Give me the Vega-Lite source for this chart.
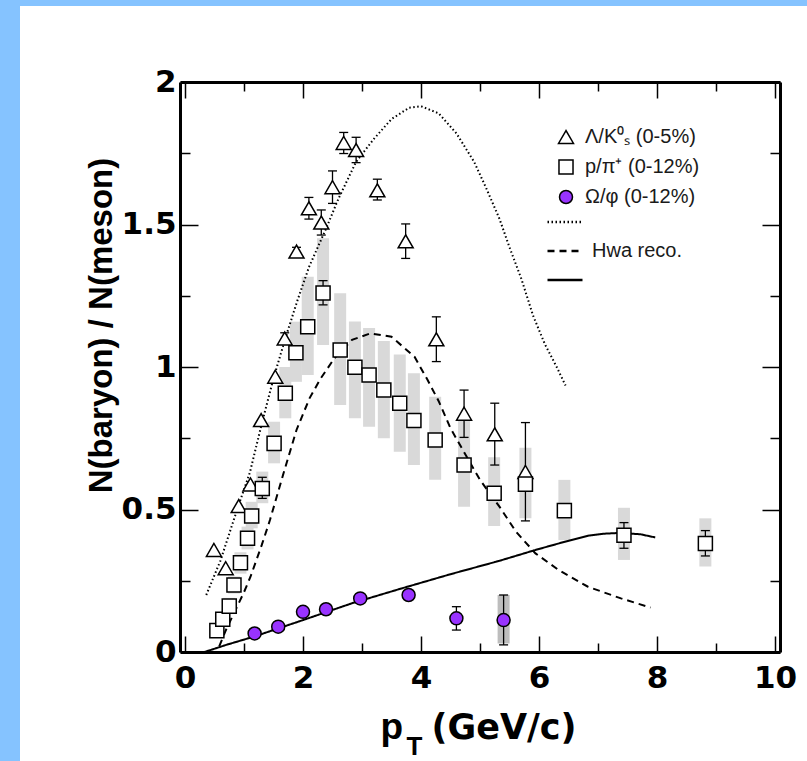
{
  "$schema": "https://vega.github.io/schema/vega-lite/v6.json",
  "width": 787,
  "height": 755,
  "autosize": "none",
  "padding": {"left": 20, "top": 6, "right": 0, "bottom": 0},
  "background": "#85C3FF",
  "config": {
    "view": {"fill": "white", "stroke": null},
    "font": "Liberation Sans",
    "axis": {"grid": false, "domainColor": "black", "tickColor": "black", "labelColor": "black", "titleColor": "black", "labelFlush": false, "labelOverlap": false}
  },
  "datasets": {
    "points": [
      {"s": "Λ/K⁰ₛ (0-5%)", "x": 0.49, "y": 0.358},
      {"s": "Λ/K⁰ₛ (0-5%)", "x": 0.69, "y": 0.294},
      {"s": "Λ/K⁰ₛ (0-5%)", "x": 0.91, "y": 0.512},
      {"s": "Λ/K⁰ₛ (0-5%)", "x": 1.11, "y": 0.588},
      {"s": "Λ/K⁰ₛ (0-5%)", "x": 1.29, "y": 0.814},
      {"s": "Λ/K⁰ₛ (0-5%)", "x": 1.53, "y": 0.966},
      {"s": "Λ/K⁰ₛ (0-5%)", "x": 1.69, "y": 1.10, "elo": 1.08, "ehi": 1.12},
      {"s": "Λ/K⁰ₛ (0-5%)", "x": 1.89, "y": 1.405, "elo": 1.39, "ehi": 1.42},
      {"s": "Λ/K⁰ₛ (0-5%)", "x": 2.10, "y": 1.557, "elo": 1.519, "ehi": 1.595},
      {"s": "Λ/K⁰ₛ (0-5%)", "x": 2.31, "y": 1.507, "elo": 1.463, "ehi": 1.551},
      {"s": "Λ/K⁰ₛ (0-5%)", "x": 2.50, "y": 1.631, "elo": 1.574, "ehi": 1.688},
      {"s": "Λ/K⁰ₛ (0-5%)", "x": 2.69, "y": 1.786, "elo": 1.749, "ehi": 1.823},
      {"s": "Λ/K⁰ₛ (0-5%)", "x": 2.90, "y": 1.761, "elo": 1.717, "ehi": 1.806},
      {"s": "Λ/K⁰ₛ (0-5%)", "x": 3.26, "y": 1.62, "elo": 1.586, "ehi": 1.659},
      {"s": "Λ/K⁰ₛ (0-5%)", "x": 3.74, "y": 1.441, "elo": 1.381, "ehi": 1.502},
      {"s": "Λ/K⁰ₛ (0-5%)", "x": 4.26, "y": 1.097, "elo": 1.019, "ehi": 1.176},
      {"s": "Λ/K⁰ₛ (0-5%)", "x": 4.73, "y": 0.836, "elo": 0.753, "ehi": 0.919},
      {"s": "Λ/K⁰ₛ (0-5%)", "x": 5.25, "y": 0.764, "elo": 0.656, "ehi": 0.873},
      {"s": "Λ/K⁰ₛ (0-5%)", "x": 5.77, "y": 0.632, "elo": 0.46, "ehi": 0.805},
      {"s": "p/π⁺ (0-12%)", "x": 0.54, "y": 0.075, "slo": 0.055, "shi": 0.095},
      {"s": "p/π⁺ (0-12%)", "x": 0.64, "y": 0.115, "slo": 0.09, "shi": 0.14},
      {"s": "p/π⁺ (0-12%)", "x": 0.75, "y": 0.161, "slo": 0.135, "shi": 0.19},
      {"s": "p/π⁺ (0-12%)", "x": 0.83, "y": 0.235, "slo": 0.205, "shi": 0.265},
      {"s": "p/π⁺ (0-12%)", "x": 0.94, "y": 0.313, "slo": 0.275, "shi": 0.35},
      {"s": "p/π⁺ (0-12%)", "x": 1.06, "y": 0.399, "slo": 0.36, "shi": 0.44},
      {"s": "p/π⁺ (0-12%)", "x": 1.13, "y": 0.477, "slo": 0.434, "shi": 0.527},
      {"s": "p/π⁺ (0-12%)", "x": 1.31, "y": 0.574, "elo": 0.539, "ehi": 0.613, "slo": 0.522, "shi": 0.633},
      {"s": "p/π⁺ (0-12%)", "x": 1.51, "y": 0.732, "slo": 0.662, "shi": 0.808},
      {"s": "p/π⁺ (0-12%)", "x": 1.70, "y": 0.908, "slo": 0.82, "shi": 1.0},
      {"s": "p/π⁺ (0-12%)", "x": 1.88, "y": 1.05, "elo": 1.035, "ehi": 1.065, "slo": 0.948, "shi": 1.159},
      {"s": "p/π⁺ (0-12%)", "x": 2.08, "y": 1.141, "elo": 1.125, "ehi": 1.157, "slo": 0.972, "shi": 1.317},
      {"s": "p/π⁺ (0-12%)", "x": 2.34, "y": 1.26, "elo": 1.218, "ehi": 1.303, "slo": 1.077, "shi": 1.452},
      {"s": "p/π⁺ (0-12%)", "x": 2.63, "y": 1.06, "slo": 0.867, "shi": 1.259},
      {"s": "p/π⁺ (0-12%)", "x": 2.88, "y": 0.999, "slo": 0.82, "shi": 1.16},
      {"s": "p/π⁺ (0-12%)", "x": 3.12, "y": 0.972, "slo": 0.79, "shi": 1.137},
      {"s": "p/π⁺ (0-12%)", "x": 3.37, "y": 0.919, "slo": 0.75, "shi": 1.091},
      {"s": "p/π⁺ (0-12%)", "x": 3.64, "y": 0.873, "slo": 0.703, "shi": 1.044},
      {"s": "p/π⁺ (0-12%)", "x": 3.88, "y": 0.812, "slo": 0.656, "shi": 0.978},
      {"s": "p/π⁺ (0-12%)", "x": 4.24, "y": 0.744, "slo": 0.604, "shi": 0.896},
      {"s": "p/π⁺ (0-12%)", "x": 4.73, "y": 0.656, "slo": 0.51, "shi": 0.814},
      {"s": "p/π⁺ (0-12%)", "x": 5.24, "y": 0.557, "slo": 0.442, "shi": 0.683},
      {"s": "p/π⁺ (0-12%)", "x": 5.77, "y": 0.589, "elo": 0.57, "ehi": 0.61, "slo": 0.469, "shi": 0.717},
      {"s": "p/π⁺ (0-12%)", "x": 6.43, "y": 0.496, "elo": 0.478, "ehi": 0.515, "slo": 0.393, "shi": 0.604},
      {"s": "p/π⁺ (0-12%)", "x": 7.44, "y": 0.41, "elo": 0.364, "ehi": 0.454, "slo": 0.323, "shi": 0.506},
      {"s": "p/π⁺ (0-12%)", "x": 8.82, "y": 0.381, "elo": 0.337, "ehi": 0.426, "slo": 0.30, "shi": 0.469},
      {"s": "Ω/φ  (0-12%)", "x": 1.18, "y": 0.065},
      {"s": "Ω/φ  (0-12%)", "x": 1.58, "y": 0.089},
      {"s": "Ω/φ  (0-12%)", "x": 2.00, "y": 0.141},
      {"s": "Ω/φ  (0-12%)", "x": 2.39, "y": 0.150},
      {"s": "Ω/φ  (0-12%)", "x": 2.97, "y": 0.188},
      {"s": "Ω/φ  (0-12%)", "x": 3.79, "y": 0.200},
      {"s": "Ω/φ  (0-12%)", "x": 4.60, "y": 0.118, "elo": 0.077, "ehi": 0.159},
      {"s": "Ω/φ  (0-12%)", "x": 5.40, "y": 0.112, "elo": 0.025, "ehi": 0.20, "slo": 0.03, "shi": 0.20}
    ],
    "curves": [
      {"m": "Λ/K⁰ₛ model", "x": 0.36, "y": 0.20},
      {"m": "Λ/K⁰ₛ model", "x": 0.6, "y": 0.32},
      {"m": "Λ/K⁰ₛ model", "x": 0.9, "y": 0.51},
      {"m": "Λ/K⁰ₛ model", "x": 1.1, "y": 0.63},
      {"m": "Λ/K⁰ₛ model", "x": 1.3, "y": 0.80},
      {"m": "Λ/K⁰ₛ model", "x": 1.5, "y": 0.96},
      {"m": "Λ/K⁰ₛ model", "x": 1.7, "y": 1.10},
      {"m": "Λ/K⁰ₛ model", "x": 1.9, "y": 1.23},
      {"m": "Λ/K⁰ₛ model", "x": 2.1, "y": 1.35},
      {"m": "Λ/K⁰ₛ model", "x": 2.4, "y": 1.49},
      {"m": "Λ/K⁰ₛ model", "x": 2.6, "y": 1.59},
      {"m": "Λ/K⁰ₛ model", "x": 2.9, "y": 1.72},
      {"m": "Λ/K⁰ₛ model", "x": 3.2, "y": 1.80},
      {"m": "Λ/K⁰ₛ model", "x": 3.5, "y": 1.87},
      {"m": "Λ/K⁰ₛ model", "x": 3.8, "y": 1.91},
      {"m": "Λ/K⁰ₛ model", "x": 4.0, "y": 1.915},
      {"m": "Λ/K⁰ₛ model", "x": 4.3, "y": 1.89},
      {"m": "Λ/K⁰ₛ model", "x": 4.6, "y": 1.82},
      {"m": "Λ/K⁰ₛ model", "x": 4.9, "y": 1.72},
      {"m": "Λ/K⁰ₛ model", "x": 5.1, "y": 1.63},
      {"m": "Λ/K⁰ₛ model", "x": 5.33, "y": 1.52},
      {"m": "Λ/K⁰ₛ model", "x": 5.5, "y": 1.42},
      {"m": "Λ/K⁰ₛ model", "x": 5.7, "y": 1.31},
      {"m": "Λ/K⁰ₛ model", "x": 5.9, "y": 1.18},
      {"m": "Λ/K⁰ₛ model", "x": 6.1, "y": 1.08},
      {"m": "Λ/K⁰ₛ model", "x": 6.3, "y": 1.00},
      {"m": "Λ/K⁰ₛ model", "x": 6.45, "y": 0.935},
      {"m": "Hwa reco.", "x": 0.58, "y": 0.02},
      {"m": "Hwa reco.", "x": 0.7, "y": 0.08},
      {"m": "Hwa reco.", "x": 0.83, "y": 0.136},
      {"m": "Hwa reco.", "x": 1.0, "y": 0.21},
      {"m": "Hwa reco.", "x": 1.11, "y": 0.264},
      {"m": "Hwa reco.", "x": 1.3, "y": 0.375},
      {"m": "Hwa reco.", "x": 1.44, "y": 0.463},
      {"m": "Hwa reco.", "x": 1.67, "y": 0.627},
      {"m": "Hwa reco.", "x": 1.89, "y": 0.779},
      {"m": "Hwa reco.", "x": 2.11, "y": 0.89},
      {"m": "Hwa reco.", "x": 2.3, "y": 0.96},
      {"m": "Hwa reco.", "x": 2.53, "y": 1.03},
      {"m": "Hwa reco.", "x": 2.83, "y": 1.095},
      {"m": "Hwa reco.", "x": 3.14, "y": 1.118},
      {"m": "Hwa reco.", "x": 3.5, "y": 1.106},
      {"m": "Hwa reco.", "x": 3.89, "y": 1.036},
      {"m": "Hwa reco.", "x": 4.11, "y": 0.955},
      {"m": "Hwa reco.", "x": 4.3, "y": 0.88},
      {"m": "Hwa reco.", "x": 4.5, "y": 0.785},
      {"m": "Hwa reco.", "x": 4.83, "y": 0.665},
      {"m": "Hwa reco.", "x": 5.0, "y": 0.604},
      {"m": "Hwa reco.", "x": 5.17, "y": 0.555},
      {"m": "Hwa reco.", "x": 5.33, "y": 0.51},
      {"m": "Hwa reco.", "x": 5.61, "y": 0.422},
      {"m": "Hwa reco.", "x": 5.94, "y": 0.346},
      {"m": "Hwa reco.", "x": 6.33, "y": 0.288},
      {"m": "Hwa reco.", "x": 6.83, "y": 0.229},
      {"m": "Hwa reco.", "x": 7.39, "y": 0.188},
      {"m": "Hwa reco.", "x": 7.89, "y": 0.156},
      {"m": "Ω/φ model", "x": 0.33, "y": 0.0},
      {"m": "Ω/φ model", "x": 0.7, "y": 0.025},
      {"m": "Ω/φ model", "x": 1.17, "y": 0.054},
      {"m": "Ω/φ model", "x": 2.0, "y": 0.112},
      {"m": "Ω/φ model", "x": 2.83, "y": 0.171},
      {"m": "Ω/φ model", "x": 3.67, "y": 0.223},
      {"m": "Ω/φ model", "x": 4.5, "y": 0.273},
      {"m": "Ω/φ model", "x": 5.33, "y": 0.32},
      {"m": "Ω/φ model", "x": 5.94, "y": 0.358},
      {"m": "Ω/φ model", "x": 6.44, "y": 0.387},
      {"m": "Ω/φ model", "x": 6.83, "y": 0.408},
      {"m": "Ω/φ model", "x": 7.1, "y": 0.415},
      {"m": "Ω/φ model", "x": 7.39, "y": 0.418},
      {"m": "Ω/φ model", "x": 7.72, "y": 0.413},
      {"m": "Ω/φ model", "x": 7.97, "y": 0.402}
    ]
  },
  "layer": [
    {
      "data": {"name": "points"},
      "transform": [{"filter": "datum.s == 'p/π⁺ (0-12%)' && isValid(datum.slo)"}],
      "mark": {"type": "bar", "size": 12, "color": "#d9d9d9"},
      "encoding": {
        "x": {"field": "x", "type": "quantitative", "scale": {"domain": [0, 10], "range": [160, 760], "nice": false, "zero": false},
          "axis": {"orient": "bottom", "offset": -109, "values": [1, 3, 5, 7, 9], "tickSize": -9, "tickWidth": 1.5, "domain": false, "labels": false,
            "title": "T", "titleFont": "Liberation Sans", "titleFontSize": 26, "titleFontWeight": "bold", "titleAlign": "left", "titleBaseline": "alphabetic", "titleAngle": 0, "titleX": 386, "titleY": 102}},
        "y": {"field": "slo", "type": "quantitative", "scale": {"domain": [0, 2], "range": [646, 76], "nice": false, "zero": false},
          "axis": {"orient": "left", "offset": -160, "values": [0.25, 0.75, 1.25, 1.75], "tickSize": -10, "tickWidth": 1.5, "domain": false, "labels": false, "title": null}},
        "y2": {"field": "shi"}
      }
    },
    {
      "data": {"name": "points"},
      "transform": [{"filter": "datum.s == 'Ω/φ  (0-12%)' && isValid(datum.slo)"}],
      "mark": {"type": "bar", "size": 12, "color": "#bdbdbd"},
      "encoding": {
        "x": {"field": "x", "type": "quantitative", "axis": null},
        "y": {"field": "slo", "type": "quantitative", "axis": null},
        "y2": {"field": "shi"}
      }
    },
    {
      "data": {"name": "curves"},
      "mark": {"type": "line", "color": "black", "strokeWidth": 2},
      "encoding": {
        "x": {"field": "x", "type": "quantitative",
          "axis": {"orient": "bottom", "offset": -109, "values": [0, 2, 4, 6, 8, 10], "format": "d", "tickSize": -16, "tickWidth": 1.5, "domainWidth": 3,
            "labelFont": "DejaVu Sans", "labelFontSize": 31, "labelFontWeight": "bold", "labelPadding": 27,
            "title": "p", "titleFont": "Liberation Sans", "titleFontSize": 37, "titleFontWeight": "bold", "titleAlign": "left", "titleBaseline": "alphabetic", "titleAngle": 0, "titleX": 360, "titleY": 86}},
        "y": {"field": "y", "type": "quantitative",
          "axis": {"orient": "left", "offset": -160, "values": [0, 0.5, 1, 1.5, 2], "labelExpr": "datum.value == 0 ? '0' : datum.value == 1 ? '1' : datum.value == 2 ? '2' : format(datum.value, '.1f')", "tickSize": -18, "tickWidth": 1.5, "domainWidth": 3,
            "labelFont": "DejaVu Sans", "labelFontSize": 31, "labelFontWeight": "bold", "labelPadding": 22,
            "title": "N(baryon) / N(meson)", "titleFont": "Liberation Sans", "titleFontSize": 33, "titleFontWeight": "bold", "titleAngle": -90, "titleAlign": "center", "titleBaseline": "alphabetic", "titleX": -69, "titleY": 319}},
        "strokeDash": {"field": "m", "type": "nominal",
          "scale": {"domain": ["Λ/K⁰ₛ model", "Hwa reco.", "Ω/φ model"], "range": [[1.5, 2.5], [7, 5], [1, 0]]},
          "legend": {"orient": "none", "legendX": 526, "legendY": 197, "title": null, "padding": 0, "labelFont": "Liberation Sans", "labelFontSize": 20, "labelColor": "#1a1a1a",
            "labelExpr": "datum.label == 'Hwa reco.' ? datum.label : ''", "symbolType": "stroke", "symbolSize": 1225, "symbolStrokeWidth": 2.5, "symbolStrokeColor": "black", "rowPadding": 0, "labelOffset": 8}}
      }
    },
    {
      "data": {"name": "points"},
      "transform": [{"filter": "isValid(datum.elo)"}],
      "mark": {"type": "rule", "color": "black", "strokeWidth": 1.3},
      "encoding": {
        "x": {"field": "x", "type": "quantitative",
          "axis": {"orient": "top", "offset": -76, "values": [0, 2, 4, 6, 8, 10], "tickSize": -16, "tickWidth": 1.5, "domainWidth": 3, "labels": false, "title": null}},
        "y": {"field": "elo", "type": "quantitative",
          "axis": {"orient": "right", "offset": -27, "values": [0, 0.5, 1, 1.5, 2], "tickSize": -18, "tickWidth": 1.5, "domainWidth": 3, "labels": false, "title": null}},
        "y2": {"field": "ehi"}
      }
    },
    {
      "data": {"name": "points"},
      "transform": [{"filter": "isValid(datum.elo)"}],
      "mark": {"type": "tick", "orient": "horizontal", "size": 9, "thickness": 1.3, "color": "black", "opacity": 1},
      "encoding": {
        "x": {"field": "x", "type": "quantitative",
          "axis": {"orient": "top", "offset": -76, "values": [1, 3, 5, 7, 9], "tickSize": -9, "tickWidth": 1.5, "domain": false, "labels": false, "title": null}},
        "y": {"field": "elo", "type": "quantitative",
          "axis": {"orient": "right", "offset": -27, "values": [0.25, 0.75, 1.25, 1.75], "tickSize": -10, "tickWidth": 1.5, "domain": false, "labels": false, "title": null}}
      }
    },
    {
      "data": {"name": "points"},
      "transform": [{"filter": "isValid(datum.ehi)"}],
      "mark": {"type": "tick", "orient": "horizontal", "size": 9, "thickness": 1.3, "color": "black", "opacity": 1},
      "encoding": {
        "x": {"field": "x", "type": "quantitative",
          "axis": {"orient": "bottom", "offset": -109, "domain": false, "ticks": false, "labels": false,
            "title": "(GeV/c)", "titleFont": "DejaVu Sans", "titleFontSize": 35, "titleFontWeight": "bold", "titleAlign": "left", "titleBaseline": "alphabetic", "titleAngle": 0, "titleX": 411, "titleY": 86}},
        "y": {"field": "ehi", "type": "quantitative", "axis": null}
      }
    },
    {
      "data": {"name": "points"},
      "mark": {"type": "point", "filled": true, "stroke": "black", "opacity": 1},
      "encoding": {
        "x": {"field": "x", "type": "quantitative", "axis": null},
        "y": {"field": "y", "type": "quantitative", "axis": null},
        "shape": {"field": "s", "type": "nominal",
          "scale": {"domain": ["Λ/K⁰ₛ (0-5%)", "p/π⁺ (0-12%)", "Ω/φ  (0-12%)"], "range": ["triangle-up", "square", "circle"]},
          "legend": {"orient": "none", "legendX": 536, "legendY": 121, "title": null, "padding": 0, "labelFont": "Liberation Sans", "labelFontSize": 20, "labelColor": "#1a1a1a",
            "symbolStrokeColor": "black", "symbolOpacity": 1, "rowPadding": 9, "labelOffset": 9}},
        "fill": {"field": "s", "type": "nominal",
          "scale": {"domain": ["Λ/K⁰ₛ (0-5%)", "p/π⁺ (0-12%)", "Ω/φ  (0-12%)"], "range": ["white", "white", "#9933ff"]}},
        "size": {"field": "s", "type": "nominal",
          "scale": {"domain": ["Λ/K⁰ₛ (0-5%)", "p/π⁺ (0-12%)", "Ω/φ  (0-12%)"], "range": [225, 169, 289]}},
        "strokeWidth": {"field": "s", "type": "nominal",
          "scale": {"domain": ["Λ/K⁰ₛ (0-5%)", "p/π⁺ (0-12%)", "Ω/φ  (0-12%)"], "range": [1.5, 1.5, 2.2]}}
      }
    }
  ],
  "resolve": {"axis": {"x": "independent", "y": "independent"}}
}
